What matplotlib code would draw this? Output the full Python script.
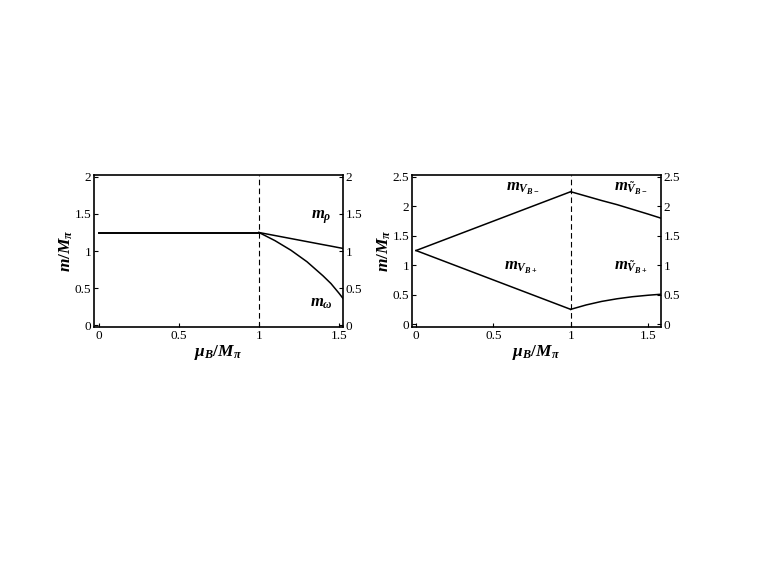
import matplotlib
matplotlib.use('Agg')
import matplotlib.pyplot as plt

plt.rcParams['font.family'] = ['Liberation Serif', 'DejaVu Serif']
plt.rcParams['mathtext.fontset'] = 'custom'
plt.rcParams['mathtext.it'] = 'Liberation Serif:italic:bold'
plt.rcParams['mathtext.rm'] = 'Liberation Serif:bold'
plt.rcParams['mathtext.bf'] = 'Liberation Serif:bold'

# left panel: rho / omega masses
mu_vac = [0.0, 1.0]
m_vac = [1.25, 1.25]
mu_sf = [1.0, 1.1, 1.2, 1.3, 1.4, 1.45, 1.5, 1.525]
m_rho = [1.25, 1.209, 1.168, 1.127, 1.086, 1.066, 1.045, 1.035]
m_omega = [1.25, 1.14, 1.01, 0.855, 0.665, 0.56, 0.43, 0.36]

# right panel: V_B+- masses
mu_n = [0.0, 1.0]
m_vb_minus = [1.25, 2.25]
m_vb_plus = [1.25, 0.25]
mu_c = [1.0, 1.1, 1.2, 1.3, 1.4, 1.5, 1.584]
m_vbt_minus = [2.25, 2.175, 2.10, 2.03, 1.95, 1.87, 1.80]
m_vbt_plus = [0.25, 0.325, 0.385, 0.43, 0.465, 0.49, 0.507]

fig = plt.figure(figsize=(7.63, 5.73), dpi=100)
ax1 = fig.add_axes([0.1232, 0.4293, 0.3263, 0.2653])
ax2 = fig.add_axes([0.5400, 0.4293, 0.3263, 0.2653])


def style(ax, yticks):
    ax.set_yticks(yticks)
    ax.set_yticklabels([f'{t:g}' for t in yticks])
    ax.set_xticks([0, 0.5, 1, 1.5])
    ax.set_xticklabels(['0', '0.5', '1', '1.5'])
    ax.tick_params(direction='in', length=3, width=0.8, labelsize=9.5,
                   right=True, labelright=True, top=False, pad=2)
    for s in ax.spines.values():
        s.set_linewidth(1.2)
    ax.set_xlabel(r'$\mu_B/M_\pi$', fontsize=12.5, labelpad=1)
    ax.set_ylabel(r'$m/M_\pi$', fontsize=12.5, labelpad=0)


lw = 1.1
ax1.plot(mu_vac, m_vac, color='black', lw=1.4)
ax1.plot(mu_sf, m_rho, color='black', lw=lw)
ax1.plot(mu_sf, m_omega, color='black', lw=lw)
ax1.axvline(1.0, color='black', lw=0.8, ls=(0, (5, 3)))
ax1.set_xlim(-0.031, 1.525)
ax1.set_ylim(-0.027, 2.027)
style(ax1, [0, 0.5, 1, 1.5, 2])
ax1.text(1.39, 1.46, r'$m_\rho$', fontsize=12, ha='center', va='center')
ax1.text(1.39, 0.30, r'$m_\omega$', fontsize=12, ha='center', va='center')

ax2.plot(mu_n, m_vb_minus, color='black', lw=lw)
ax2.plot(mu_n, m_vb_plus, color='black', lw=lw)
ax2.plot(mu_c, m_vbt_minus, color='black', lw=lw)
ax2.plot(mu_c, m_vbt_plus, color='black', lw=lw)
ax2.axvline(1.0, color='black', lw=0.8, ls=(0, (5, 3)))
ax2.set_xlim(-0.026, 1.584)
ax2.set_ylim(-0.05, 2.534)
style(ax2, [0, 0.5, 1, 1.5, 2, 2.5])
ax2.text(0.69, 2.30, r'$m_{V_{B-}}$', fontsize=12, ha='center', va='center')
ax2.text(0.675, 0.95, r'$m_{V_{B+}}$', fontsize=12, ha='center', va='center')
ax2.text(1.39, 2.28, r'$m_{\tilde{V}_{B-}}$', fontsize=12, ha='center', va='center')
ax2.text(1.39, 0.95, r'$m_{\tilde{V}_{B+}}$', fontsize=12, ha='center', va='center')

fig.savefig('out.png', dpi=100)
